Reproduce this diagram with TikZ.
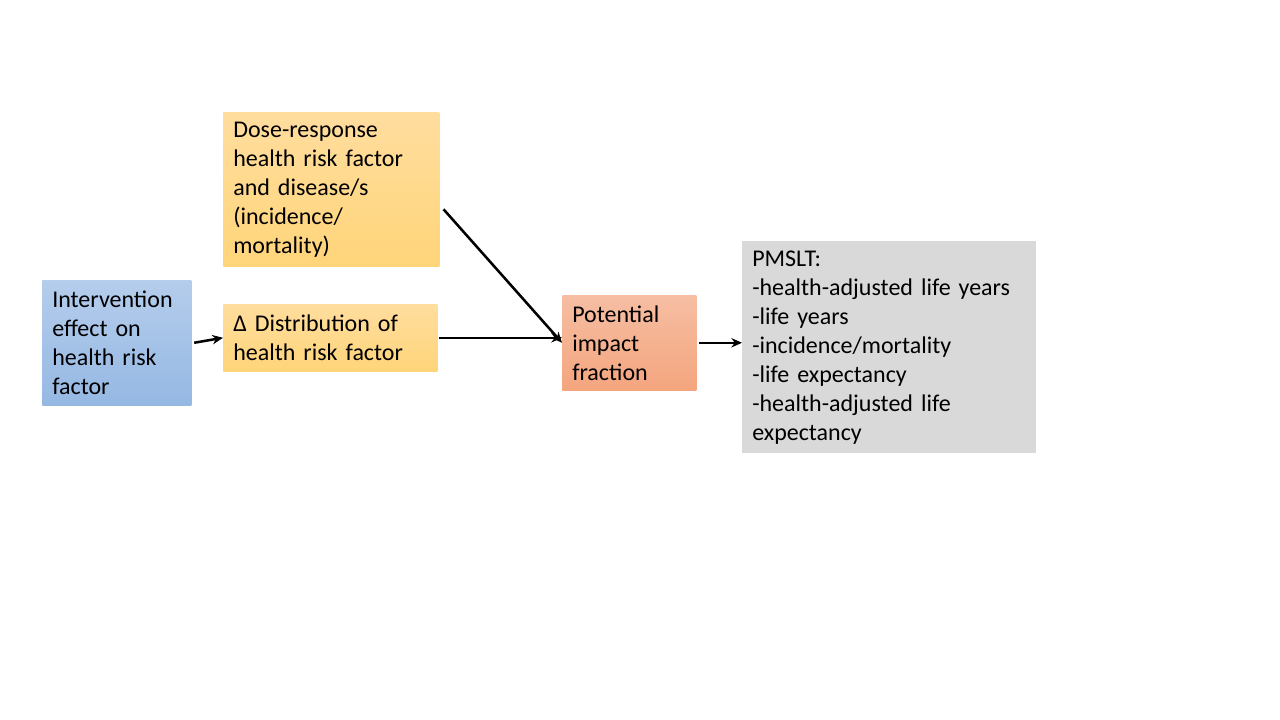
\documentclass[tikz,border=0pt]{standalone}
\usepackage{fontspec}
\setmainfont[WordSpace=0.85]{Carlito}
\usepackage{tikz}
\usetikzlibrary{calc,arrows.meta,positioning}
\definecolor{effectBlueTop}{RGB}{181,205,236}
\definecolor{effectBlueBot}{RGB}{149,184,227}
\definecolor{doseYellowTop}{RGB}{255,221,158}
\definecolor{doseYellowBot}{RGB}{255,213,122}
\definecolor{pifOrangeTop}{RGB}{246,190,163}
\definecolor{pifOrangeBot}{RGB}{244,165,126}
\definecolor{pmsltGray}{RGB}{217,217,217}

\tikzset{
  flowbox/.style={anchor=north west, inner xsep=7.5pt, inner ysep=0pt, align=left,
    font=\fontsize{18}{21.75}\selectfont},
  flowarrow/.style={line width=1.9pt, -{Stealth[length=8pt,width=7pt]}}
}

\begin{document}
\begin{tikzpicture}[x=0.75pt,y=-0.75pt]
\useasboundingbox (0,0) rectangle (1280,720);
\fill[white] (0,0) rectangle (1280,720);

\node[flowbox, top color=effectBlueTop, bottom color=effectBlueBot,
  minimum width=149*0.75pt, minimum height=125*0.75pt, text width=149*0.75pt-15pt]
  (effect) at (42,280) {Intervention\\effect on\\health risk\\factor};
\node[flowbox, top color=doseYellowTop, bottom color=doseYellowBot,
  minimum width=216*0.75pt, minimum height=154*0.75pt, text width=216*0.75pt-15pt]
  (dose) at (223,112) {Dose-response\\health risk factor\\and disease/s\\(incidence/\\mortality)};
\node[flowbox, top color=doseYellowTop, bottom color=doseYellowBot,
  minimum width=214*0.75pt, minimum height=67*0.75pt, text width=214*0.75pt-15pt]
  (dist) at (223,304) {Δ Distribution of\\health risk factor};
\node[flowbox, top color=pifOrangeTop, bottom color=pifOrangeBot,
  minimum width=134*0.75pt, minimum height=95*0.75pt, text width=134*0.75pt-15pt]
  (pif) at (562,295) {Potential\\impact\\fraction};
\node[flowbox, fill=pmsltGray,
  minimum width=294*0.75pt, minimum height=212*0.75pt, text width=294*0.75pt-15pt]
  (pmslt) at (742,241) {PMSLT:\\-health-adjusted life years\\-life years\\-incidence/mortality\\-life expectancy\\-health-adjusted life\\expectancy};

% connectors
\draw[flowarrow] ([xshift=2]effect.east) -- (dist.west);
\draw[flowarrow] ([xshift=3pt,yshift=-15pt]dose.east) -- (pif.west);
\draw[flowarrow] ([xshift=1]dist.east) -- (dist.east -| pif.west);
\draw[flowarrow] ([xshift=2]pif.east) -- (pif.east -| pmslt.west);
\end{tikzpicture}
\end{document}
